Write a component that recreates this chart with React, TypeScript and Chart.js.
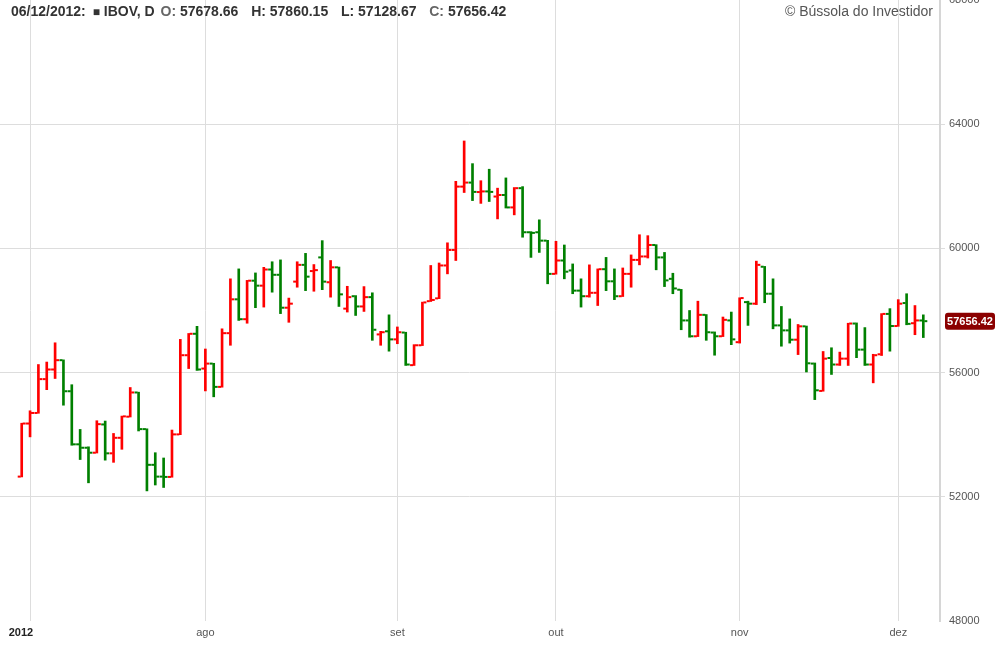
import React, { useEffect, useRef } from 'react';
import { Chart, registerables } from 'chart.js';

Chart.register(...registerables);

// Daily IBOV bars (index 0 = first visible session)
const opens = [
  52650, 54360, 54700, 55790, 56100, 56400, 55400, 53690, 53580, 53420,
  54330, 53400, 53900, 54580, 55360, 54180, 53030, 52650, 52640, 54010,
  56560, 57250, 56130, 56290, 55540, 57270, 58360, 57720, 58960, 58800,
  59320, 59150, 58090, 58930, 59470, 59270, 59710, 58910, 59390, 58060,
  58460, 58130, 58430, 57230, 57330, 57070, 57290, 56240, 56880, 58300,
  58390, 59450, 59950, 61990, 62120, 61815, 61835, 61670, 61720, 61320,
  61940, 60520, 60520, 60250, 59180, 59610, 59290, 58640, 58460, 58570,
  59330, 58940, 58460, 59180, 59630, 59740, 60110, 59710, 59020, 58670,
  57680, 57170, 57860, 57290, 57170, 57680, 56980, 58270, 58220, 59410,
  58540, 57520, 57360, 57060, 57490, 56290, 55410, 56470, 56260, 56450,
  57580, 56740, 56260, 56590, 57890, 57500, 58240, 57590, 57678.66,
];
const highs = [
  54370, 54770, 56260, 56340, 56960, 56410, 55610, 54170, 53610, 54450,
  54440, 54040, 54600, 55520, 55370, 54190, 53420, 53250, 54150, 57070,
  57260, 57490, 56760, 56300, 57410, 59020, 59340, 58970, 59210, 59390,
  59570, 59630, 58400, 59570, 59840, 59480, 60250, 59610, 59400, 58780,
  58480, 58770, 58570, 57330, 57860, 57470, 57300, 56900, 58270, 59450,
  59530, 60180, 62160, 63460, 62730, 62180, 62550, 61940, 62270, 61960,
  61990, 60540, 60920, 60260, 60230, 60110, 59500, 59020, 59470, 59340,
  59710, 59340, 59370, 59790, 60440, 60410, 60120, 59870, 59200, 58680,
  58000, 58300, 57870, 57310, 57790, 57950, 58410, 58300, 59590, 59420,
  59020, 58130, 57730, 57550, 57500, 56310, 56680, 56800, 56660, 57590,
  57600, 57450, 56590, 57900, 58060, 58350, 58540, 58160, 57860.15,
];
const lows = [
  52640, 53930, 54690, 55450, 55810, 54950, 53660, 53200, 52450, 53410,
  53180, 53110, 53530, 54570, 54120, 52190, 52380, 52300, 52630, 54000,
  56130, 56070, 55410, 55220, 55530, 56880, 57680, 57590, 58090, 58110,
  58590, 57900, 57620, 58750, 58640, 58620, 58670, 58430, 58130, 57950,
  57840, 57970, 57040, 56880, 56690, 56930, 56230, 56230, 56870, 58290,
  58380, 59180, 59610, 61800, 61540, 61450, 61510, 60950, 61300, 61080,
  60360, 59710, 59870, 58860, 59170, 59020, 58540, 58110, 58430, 58160,
  58640, 58350, 58450, 58750, 59470, 59690, 59310, 58770, 58540, 57380,
  57140, 57160, 57040, 56560, 57160, 56900, 56950, 57520, 58190, 58250,
  57410, 56850, 56950, 56580, 56020, 55130, 55400, 55940, 56230, 56230,
  56480, 56230, 55670, 56550, 56690, 57490, 57540, 57220, 57128.67,
];
const closes = [
  54360, 54700, 55790, 56100, 56400, 55400, 53690, 53580, 53420, 54340,
  53400, 53900, 54590, 55360, 54180, 53030, 52650, 52640, 54010, 56560,
  57250, 56100, 56290, 55540, 57270, 58360, 57720, 58960, 58800, 59320,
  59150, 58090, 58220, 59470, 59090, 59300, 58930, 59390, 58520, 58430,
  58130, 58430, 57380, 57300, 57070, 57300, 56260, 56880, 58260, 58340,
  59450, 59950, 61990, 62120, 61820, 61835, 61820, 61720, 61320, 61940,
  60520, 60500, 60250, 59180, 59610, 59250, 58640, 58460, 58570, 59330,
  58940, 58460, 59180, 59630, 59740, 60110, 59710, 58970, 58710, 57680,
  57170, 57860, 57300, 57170, 57700, 57070, 58400, 58220, 59470, 58540,
  57520, 57360, 57060, 57490, 56300, 55430, 56450, 56260, 56450, 57580,
  56740, 56260, 56560, 57890, 57500, 58220, 57570, 57680, 57656.42,
];

// Month ticks (bar index) and labels
const tickIdx = [1, 22, 45, 64, 86, 105];
const tickLabels = ['2012', 'ago', 'set', 'out', 'nov', 'dez'];

const RED = '#ff0000';
const GREEN = '#008000';
const FAMILY = '"Liberation Sans", Arial, Helvetica, sans-serif';

const ohlcPlugin = {
  id: 'ohlcTicks',
  afterDatasetsDraw(chart: any) {
    const { ctx } = chart;
    const x = chart.scales.x;
    const y = chart.scales.y;
    ctx.save();
    for (let i = 0; i < opens.length; i++) {
      const px = x.getPixelForValue(i);
      ctx.fillStyle = closes[i] >= opens[i] ? RED : GREEN;
      const yo = y.getPixelForValue(opens[i]);
      const yc = y.getPixelForValue(closes[i]);
      ctx.fillRect(px - 4, yo - 1, 3, 2);
      ctx.fillRect(px + 1, yc - 1, 3, 2);
    }
    // last price label
    const last = closes[closes.length - 1];
    const ly = y.getPixelForValue(last);
    const bx = 945, bw = 50, bh = 17;
    ctx.fillStyle = '#8b0000';
    ctx.beginPath();
    if (ctx.roundRect) ctx.roundRect(bx, ly - bh / 2, bw, bh, 3);
    else ctx.rect(bx, ly - bh / 2, bw, bh);
    ctx.fill();
    ctx.fillStyle = '#ffffff';
    ctx.font = 'bold 11px ' + FAMILY;
    ctx.textAlign = 'center';
    ctx.textBaseline = 'middle';
    ctx.fillText(last.toFixed(2), bx + bw / 2, ly + 0.5);
    ctx.restore();
  },
};

export default function App() {
  const ref = useRef<HTMLCanvasElement>(null);

  useEffect(() => {
    const chart = new Chart(ref.current as HTMLCanvasElement, {
      type: 'bar',
      data: {
        datasets: [
          {
            data: lows.map((l, i) => ({ x: i, y: [l, highs[i]] })) as any,
            backgroundColor: closes.map((c, i) => (c >= opens[i] ? RED : GREEN)),
            borderWidth: 0,
            barThickness: 2,
          },
        ],
      },
      options: {
        animation: false,
        responsive: false,
        maintainAspectRatio: false,
        layout: { padding: 0 },
        plugins: { legend: { display: false }, tooltip: { enabled: false } },
        scales: {
          x: {
            type: 'linear',
            min: -2.6,
            max: 110,
            offset: false,
            grid: { offset: false, color: '#dddddd', drawTicks: false },
            border: { display: false },
            afterBuildTicks: (s: any) => {
              s.ticks = tickIdx.map((v) => ({ value: v }));
            },
            afterFit: (s: any) => {
              s.height = 29;
              s.paddingLeft = 0;
              s.paddingRight = 0;
            },
            ticks: {
              autoSkip: false,
              maxRotation: 0,
              padding: 5,
              color: (c: any) => (c.index === 0 ? '#222' : '#555'),
              font: (c: any) => ({ size: 11, family: FAMILY, weight: c.index === 0 ? 'bold' : 'normal' }),
              callback: (v: any) => {
                const k = tickIdx.indexOf(Number(v));
                if (k < 0) return '';
                // first label sits left-aligned against its gridline
                return k === 0 ? tickLabels[k] + '      ' : tickLabels[k];
              },
            },
          } as any,
          y: {
            position: 'right',
            min: 48000,
            max: 68000,
            grid: {
              color: (c: any) =>
                c.tick && (c.tick.value === 48000 || c.tick.value === 68000) ? 'rgba(0,0,0,0)' : '#dddddd',
              tickLength: 5,
            },
            border: { color: '#d6d6d6', width: 2 },
            afterFit: (s: any) => {
              s.width = 60;
              s.paddingTop = 0;
              s.paddingBottom = 0;
            },
            ticks: {
              stepSize: 4000,
              padding: 4,
              color: '#555',
              font: { size: 11, family: FAMILY },
              callback: (v: any) => String(v),
            },
          } as any,
        },
      },
      plugins: [ohlcPlugin],
    });
    return () => chart.destroy();
  }, []);

  const dark = '#333';
  const gray = '#666';
  const gap = { marginRight: 5 };
  return (
    <div style={{ position: 'absolute', left: 0, top: 0, width: 1000, height: 650, background: '#fff' }}>
      <canvas ref={ref} width={1000} height={650} style={{ position: 'absolute', left: 0, top: 0 }} />
      <div
        style={{
          position: 'absolute',
          left: 11,
          top: 3,
          font: 'bold 14px ' + FAMILY,
          color: dark,
          whiteSpace: 'pre',
          lineHeight: '17px',
        }}
      >
        <span style={{ marginRight: 3 }}>06/12/2012: </span>
        <span style={{ fontSize: 12 }}>■</span>
        <span style={{ marginRight: 2 }}> IBOV, D </span>
        <span style={{ color: gray }}>O: </span>
        <span style={gap}>57678.66  </span>
        <span style={{ color: dark }}>H: </span>
        <span style={gap}>57860.15  </span>
        <span style={{ color: dark }}>L: </span>
        <span style={gap}>57128.67  </span>
        <span style={{ color: gray }}>C: </span>
        <span>57656.42</span>
      </div>
      <div
        style={{
          position: 'absolute',
          right: 67,
          top: 3,
          font: '14px ' + FAMILY,
          color: '#555',
          whiteSpace: 'pre',
          lineHeight: '17px',
        }}
      >
        © Bússola do Investidor
      </div>
    </div>
  );
}
